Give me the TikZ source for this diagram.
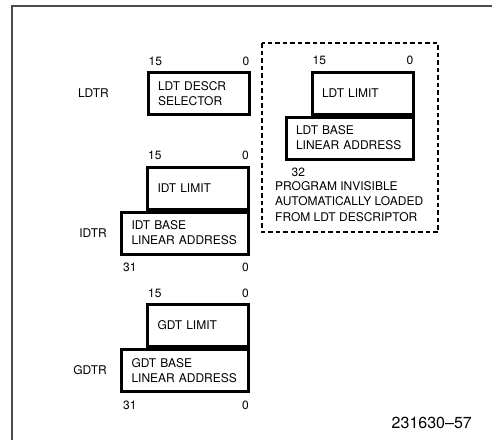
\documentclass[tikz,border=0pt]{standalone}
\usepackage{fontspec}
\setmainfont{TeX Gyre Heros}
\usetikzlibrary{calc}
\hyphenpenalty=10000

\begin{document}
\begin{tikzpicture}[x=1pt, y=-1pt,
	frame/.style = {draw=black!70, line width=1.5pt},
	regbox/.style = {draw=black, line width=3pt, minimum height=42pt, inner xsep=10pt, inner ysep=0pt, align=left, font=\fontsize{12}{15}\selectfont},
	limbox/.style = {regbox, text width=81pt},
	basebox/.style = {regbox, text width=107pt},
	bitlab/.style = {font=\fontsize{12}{14}\selectfont, inner sep=0pt},
	reglab/.style = {font=\fontsize{12}{14}\selectfont, inner sep=0pt, anchor=east},
	dashbox/.style = {draw=black, line width=2.8pt, dash pattern=on 4.5pt off 3pt}
]
\useasboundingbox (0,0) rectangle (492,439);

% Outer frame of the figure (open to the right and bottom)
\draw[frame] (12,440) -- (12,6) -- (493,6);

% LDTR: the visible selector
\node[limbox] (ldtsel) at (198.5,93.5) {LDT DESCR\\SELECTOR};
\node[bitlab, anchor=base west] at ($(ldtsel.north west)+(2,-6)$) {15};
\node[bitlab, anchor=base east] at ($(ldtsel.north east)+(-1,-6)$) {0};
\node[reglab] (ldtr) at (109,93.5) {LDTR};

% Hidden part of LDTR, loaded from the descriptor
\draw[dashbox] (262,43) rectangle (438,232);
\node[limbox] (ldtlim) at (362.5,93) {LDT LIMIT};
\node[basebox, anchor=north east] (ldtbase) at (ldtlim.south east) {LDT BASE\\LINEAR ADDRESS};
\node[bitlab, anchor=base west] at ($(ldtlim.north west)+(2,-6)$) {15};
\node[bitlab, anchor=base east] at ($(ldtlim.north east)+(-1,-6)$) {0};
\node[bitlab, anchor=base west] at ($(ldtbase.south west)+(7,16)$) {32};
\node[bitlab, anchor=north west, align=left, font=\fontsize{12}{15.5}\selectfont] (ldtnote) at (275,181)
	{PROGRAM INVISIBLE\\AUTOMATICALLY LOADED\\FROM LDT DESCRIPTOR};

% IDTR and GDTR: limit on top, base below
\foreach \T/\nm/\y in {IDT/idt/188, GDT/gdt/325.5} {
	\node[limbox] (\nm lim) at (198,\y) {\T\ LIMIT};
	\node[basebox, anchor=north east] (\nm base) at (\nm lim.south east) {\T\ BASE\\LINEAR ADDRESS};
	\node[bitlab, anchor=base west] at ($(\nm lim.north west)+(2,-6)$) {15};
	\node[bitlab, anchor=base east] at ($(\nm lim.north east)+(-1,-6)$) {0};
	\node[bitlab, anchor=base west] at ($(\nm base.south west)+(3,16)$) {31};
	\node[bitlab, anchor=base east] at ($(\nm base.south east)+(-1,16)$) {0};
	\node[reglab] (\nm r) at ($(\nm base.west)+(-13,0)$) {\T R};
}

% Figure number
\node[bitlab, anchor=east, font=\fontsize{16}{18}\selectfont] (fignum) at (472,423) {231630--57};

\end{tikzpicture}
\end{document}
